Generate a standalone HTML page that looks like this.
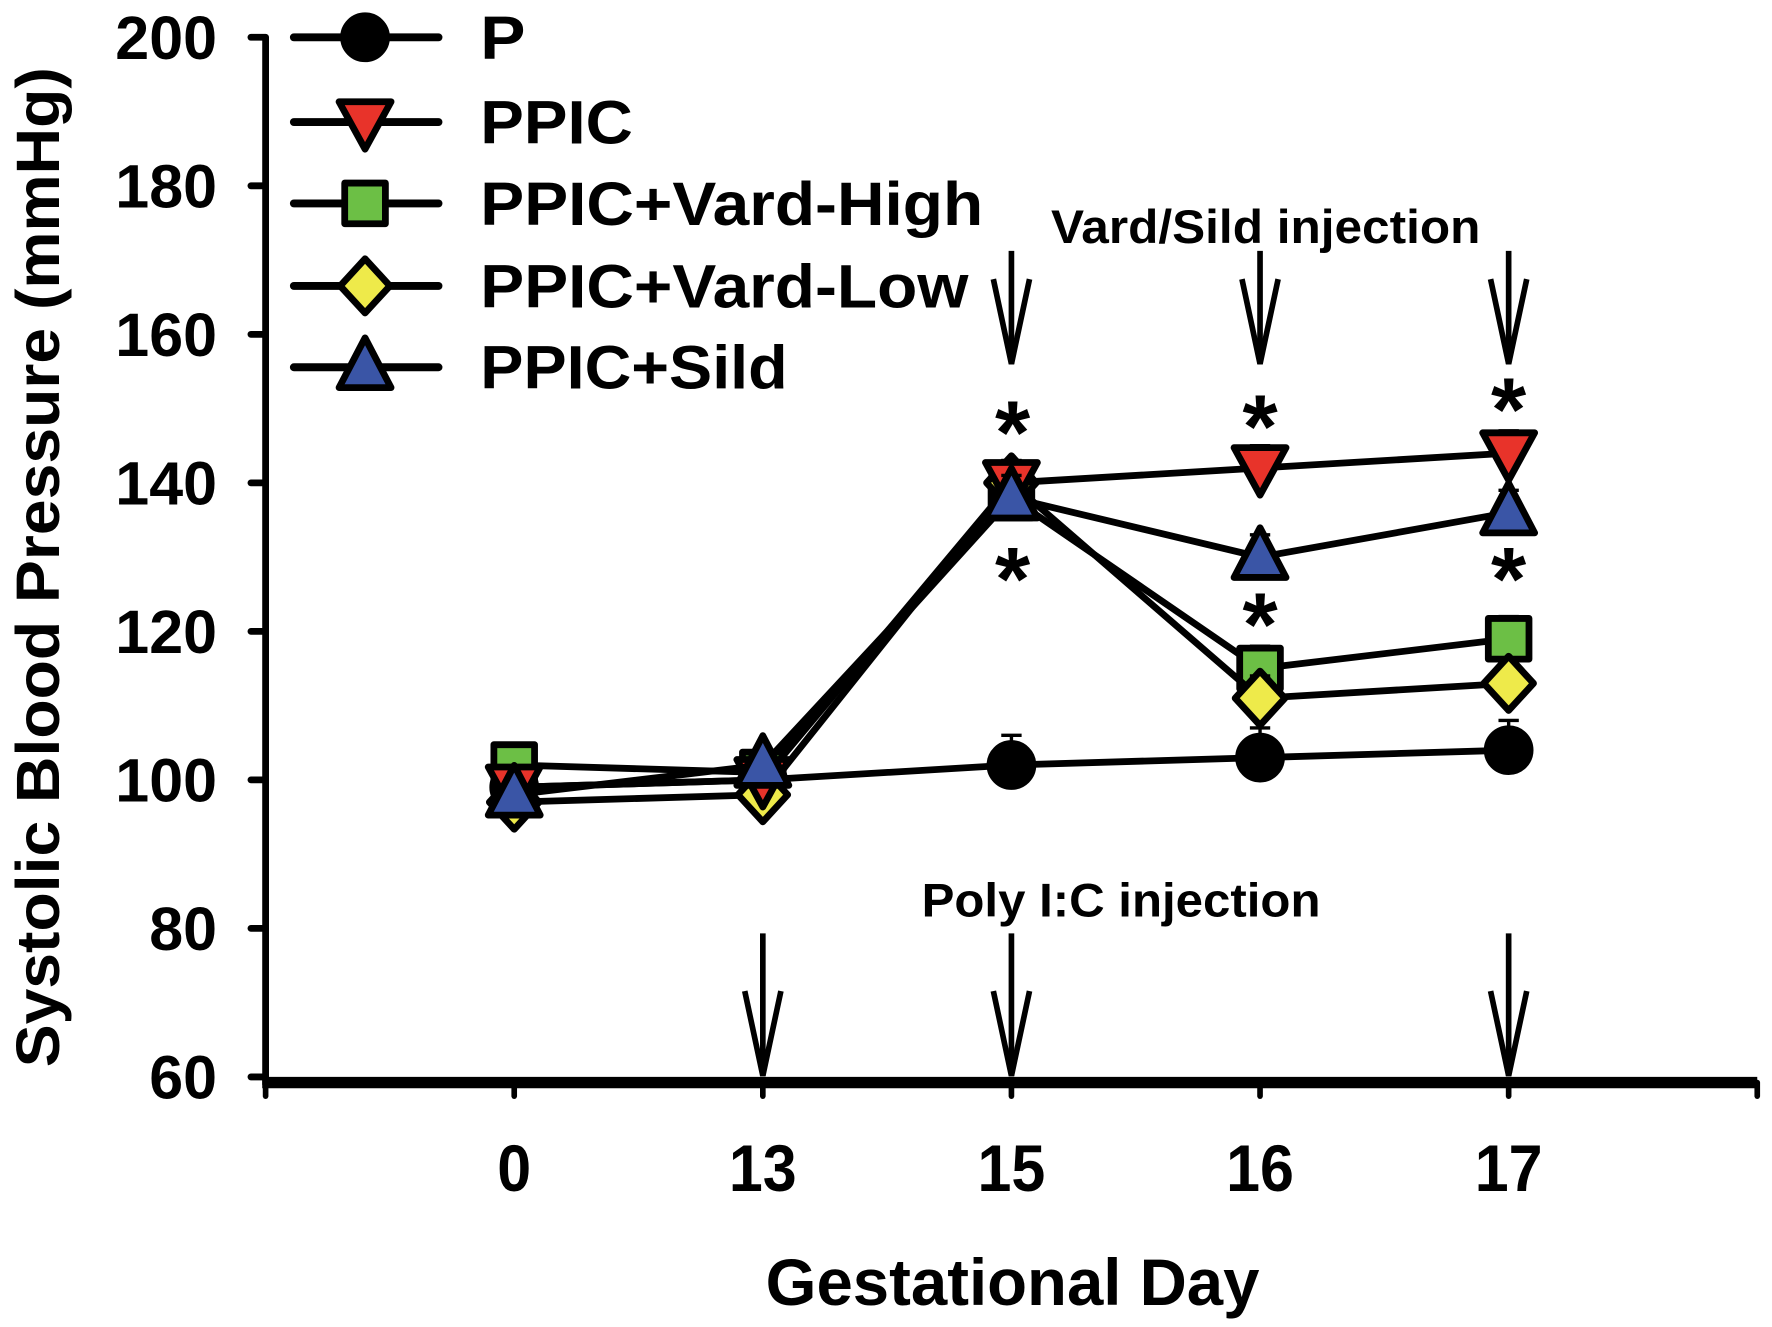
<!DOCTYPE html>
<html><head><meta charset="utf-8"><style>
html,body{margin:0;padding:0;background:#fff}
svg{display:block}
text{font-family:"Liberation Sans",Arial,sans-serif;font-weight:bold;fill:#000}
</style></head><body>
<svg id="chart" width="1772" height="1327" viewBox="0 0 1568 1174.3" xmlns="http://www.w3.org/2000/svg">
<g id="axes"></g>
<g id="annotations"></g>
<g id="series"></g>
<g id="legend"></g>
</svg>
<script>
const categories = ["0","13","15","16","17"];
const yTicks = [60,80,100,120,140,160,180,200];
const seriesNames = ["P","PPIC","PPIC+Vard-High","PPIC+Vard-Low","PPIC+Sild"];
const valuesP = [99,100,102,103,104];
const valuesPPIC = [99,100,140,142,144];
const valuesVardHigh = [102,101,138,115,119];
const valuesVardLow = [97,98,140,111,113];
const valuesSild = [98,102,138,130,136];
const errP = [2,2,4,4,4];
const errPPIC = [2,2,3,3,3];
const errVardHigh = [2,2,3,3,3];
const errVardLow = [2,2,3,3,3];
const errSild = [2,2,3,3,3];
const vardArrowDays = ["15","16","17"];
const polyArrowDays = ["13","15","17"];

const NS="http://www.w3.org/2000/svg";
const x0=235, step=220, yBase=953, yTop=33;
function xs(c){return x0+step*(categories.indexOf(c)+1);}
function ys(v){return yBase-(v-60)*(yBase-yTop)/140;}
function mk(tag,attrs,parent){const e=document.createElementNS(NS,tag);for(const k in attrs)e.setAttribute(k,attrs[k]);parent.appendChild(e);return e;}

const axes=document.getElementById('axes');
let e=mk('line',{x1:x0,y1:yTop,x2:x0,y2:960,stroke:'#000','stroke-width':6},axes);


e=mk('line',{x1:x0-3,y1:958,x2:1555,y2:958,stroke:'#000','stroke-width':10},axes);


yTicks.forEach(t=>{
  const y=ys(t);
  let l=mk('line',{x1:222,y1:y,x2:x0,y2:y,stroke:'#000','stroke-width':6,'stroke-linecap':'round'},axes);
  
  
  const s=String(t);
  let tx=mk('text',{x:192,y:y+19,'text-anchor':'end','font-size':54,textLength:s.length*30,lengthAdjust:'spacingAndGlyphs'},axes);
  tx.textContent=s;
  
  
});
for(let i=0;i<=6;i++){
  const x=x0+step*i;
  let l=mk('line',{x1:x,y1:958,x2:x,y2:970,stroke:'#000','stroke-width':5,'stroke-linecap':'round'},axes);
  
  
}
categories.forEach(c=>{
  let tx=mk('text',{x:xs(c),y:1054,'text-anchor':'middle','font-size':58,textLength:c.length*30,lengthAdjust:'spacingAndGlyphs'},axes);
  tx.textContent=c;
  
  
});
e=mk('text',{x:896,y:1155,'text-anchor':'middle','font-size':58,textLength:437,lengthAdjust:'spacingAndGlyphs'},axes);
e.textContent='Gestational Day';


e=mk('text',{x:0,y:0,'text-anchor':'middle','font-size':54,textLength:885,lengthAdjust:'spacingAndGlyphs',transform:'translate(52,502) rotate(-90)'},axes);
e.textContent='Systolic Blood Pressure (mmHg)';



const ann=document.getElementById('annotations');
function arrow(x,y1,y2,name){
  const g=mk('g',{stroke:'#000','stroke-width':5,fill:'none','stroke-linejoin':'miter'},ann);
  
  
  mk('line',{x1:x,y1:y1,x2:x,y2:y2},g);
  mk('polyline',{points:`${x-16},${y2-75} ${x},${y2} ${x+16},${y2-75}`},g);
}
vardArrowDays.forEach(d=>arrow(xs(d),222,322,'vard-sild-arrow'));
polyArrowDays.forEach(d=>arrow(xs(d),826,952,'poly-ic-arrow'));
e=mk('text',{x:1120,y:215,'text-anchor':'middle','font-size':42,textLength:380,lengthAdjust:'spacingAndGlyphs'},ann);
e.textContent='Vard/Sild injection';


e=mk('text',{x:992,y:811,'text-anchor':'middle','font-size':42,textLength:353,lengthAdjust:'spacingAndGlyphs'},ann);
e.textContent='Poly I:C injection';


[[896,410],[896,540],[1115,405],[1115,580],[1335,390],[1335,540]].forEach(p=>{
  let t=mk('text',{x:p[0],y:p[1],'text-anchor':'middle','font-size':80},ann);
  t.textContent='*';
  
  
});

function marker(type,x,y,fill,parent){
  const s={stroke:'#000','stroke-width':6,fill:fill,'stroke-linejoin':'round'};
  let m;
  if(type==='circle'){m=mk('circle',Object.assign({cx:x,cy:y,r:19},s),parent);}
  else if(type==='down'){m=mk('polygon',Object.assign({points:`${x-23},${y-18} ${x+23},${y-18} ${x},${y+24}`},s),parent);}
  else if(type==='square'){m=mk('rect',Object.assign({x:x-18,y:y-18,width:36,height:36},s),parent);}
  else if(type==='diamond'){m=mk('polygon',Object.assign({points:`${x},${y-24} ${x+22},${y} ${x},${y+24} ${x-22},${y}`},s),parent);}
  else {m=mk('polygon',Object.assign({points:`${x},${y-26} ${x+23},${y+18} ${x-23},${y+18}`},s),parent);}
  return m;
}
const seriesDefs=[
  {vals:valuesP,err:errP,type:'circle',fill:'#000',name:'series-p'},
  {vals:valuesVardHigh,err:errVardHigh,type:'square',fill:'#6cbf45',name:'series-vard-high'},
  {vals:valuesVardLow,err:errVardLow,type:'diamond',fill:'#eeea4a',name:'series-vard-low'},
  {vals:valuesPPIC,err:errPPIC,type:'down',fill:'#e8332a',name:'series-ppic'},
  {vals:valuesSild,err:errSild,type:'up',fill:'#3a55a6',name:'series-sild'}
];
const sg=document.getElementById('series');
seriesDefs.forEach(sd=>{
  const g=mk('g',{},sg);
  
  
  const pts=categories.map((c,i)=>`${xs(c)},${ys(sd.vals[i])}`).join(' ');
  let pl=mk('polyline',{points:pts,fill:'none',stroke:'#000','stroke-width':6},g);
  
  
  categories.forEach((c,i)=>{
    const x=xs(c),y=ys(sd.vals[i]),ye=ys(sd.vals[i]+sd.err[i]);
    let eb=mk('path',{d:`M${x},${y} V${ye} M${x-9},${ye} H${x+9}`,stroke:'#000','stroke-width':3,fill:'none'},g);
    
    
  });
  categories.forEach((c,i)=>{
    let m=marker(sd.type,xs(c),ys(sd.vals[i]),sd.fill,g);
    
    
  });
});

const lg=document.getElementById('legend');
const legTypes=[['circle','#000'],['down','#e8332a'],['square','#6cbf45'],['diamond','#eeea4a'],['up','#3a55a6']];
const legY=[33,108,180,253,325];
const legLen=[40,135,445,432,272];
seriesNames.forEach((n,i)=>{
  const g=mk('g',{},lg);
  
  
  const y=legY[i];
  mk('line',{x1:260,y1:y,x2:388,y2:y,stroke:'#000','stroke-width':7,'stroke-linecap':'round'},g);
  marker(legTypes[i][0],323,y,legTypes[i][1],g);
  let t=mk('text',{x:425,y:y+19,'font-size':54,textLength:legLen[i],lengthAdjust:'spacingAndGlyphs'},g);
  t.textContent=n;
});
</script>
</body></html>
